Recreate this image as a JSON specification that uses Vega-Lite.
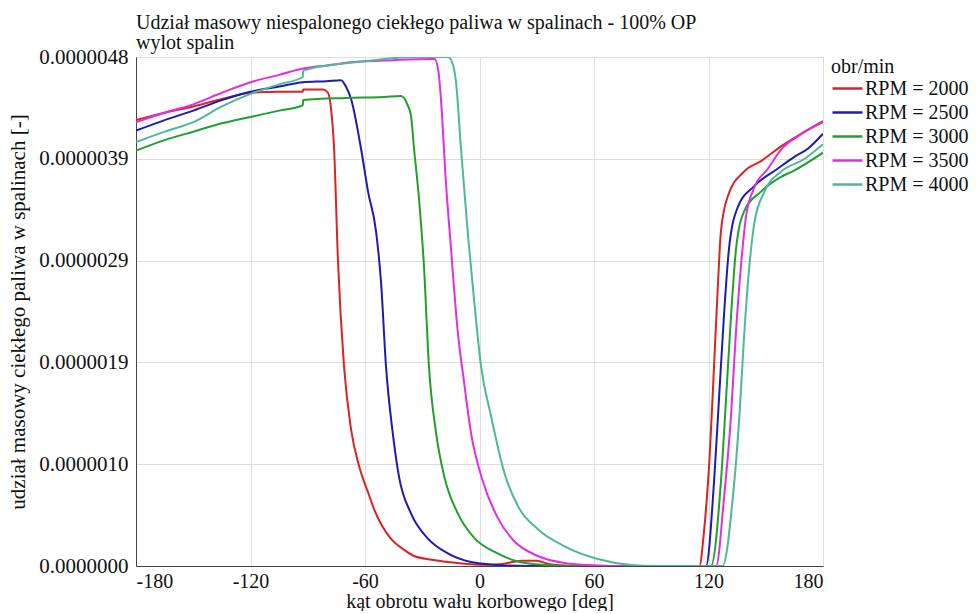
{
  "$schema": "https://vega.github.io/schema/vega-lite/v6.json",
  "width": 687,
  "height": 509,
  "padding": {"left": 7, "top": 13, "right": 0, "bottom": 0},
  "background": "white",
  "title": {
    "text": ["Udział masowy niespalonego ciekłego paliwa w spalinach - 100% OP", "wylot spalin"],
    "anchor": "start",
    "frame": "group",
    "font": "Liberation Serif",
    "fontSize": 20,
    "fontWeight": "normal",
    "color": "#111",
    "lineHeight": 20,
    "offset": -7
  },
  "datasets": {
    "curves": [
      {"rpm": "RPM = 2000", "kat": -180, "u": 4.24e-6},
      {"rpm": "RPM = 2000", "kat": -165, "u": 4.31e-6},
      {"rpm": "RPM = 2000", "kat": -150, "u": 4.37e-6},
      {"rpm": "RPM = 2000", "kat": -135, "u": 4.44e-6},
      {"rpm": "RPM = 2000", "kat": -120, "u": 4.50e-6},
      {"rpm": "RPM = 2000", "kat": -105, "u": 4.51e-6},
      {"rpm": "RPM = 2000", "kat": -92.6, "u": 4.51e-6},
      {"rpm": "RPM = 2000", "kat": -92.4, "u": 4.53e-6},
      {"rpm": "RPM = 2000", "kat": -82, "u": 4.53e-6},
      {"rpm": "RPM = 2000", "kat": -79.4, "u": 4.50e-6},
      {"rpm": "RPM = 2000", "kat": -77.8, "u": 4.35e-6},
      {"rpm": "RPM = 2000", "kat": -76.2, "u": 3.97e-6},
      {"rpm": "RPM = 2000", "kat": -74.2, "u": 2.92e-6},
      {"rpm": "RPM = 2000", "kat": -71.0, "u": 1.90e-6},
      {"rpm": "RPM = 2000", "kat": -67.3, "u": 1.30e-6},
      {"rpm": "RPM = 2000", "kat": -63.1, "u": 0.95e-6},
      {"rpm": "RPM = 2000", "kat": -58, "u": 0.68e-6},
      {"rpm": "RPM = 2000", "kat": -55, "u": 0.53e-6},
      {"rpm": "RPM = 2000", "kat": -51, "u": 0.38e-6},
      {"rpm": "RPM = 2000", "kat": -46, "u": 0.25e-6},
      {"rpm": "RPM = 2000", "kat": -40, "u": 0.16e-6},
      {"rpm": "RPM = 2000", "kat": -34.3, "u": 0.095e-6},
      {"rpm": "RPM = 2000", "kat": -25, "u": 0.06e-6},
      {"rpm": "RPM = 2000", "kat": -16.5, "u": 0.038e-6},
      {"rpm": "RPM = 2000", "kat": 0, "u": 0.012e-6},
      {"rpm": "RPM = 2000", "kat": 12, "u": 0.02e-6},
      {"rpm": "RPM = 2000", "kat": 18, "u": 0.04e-6},
      {"rpm": "RPM = 2000", "kat": 22, "u": 0.05e-6},
      {"rpm": "RPM = 2000", "kat": 30, "u": 0.05e-6},
      {"rpm": "RPM = 2000", "kat": 36, "u": 0.02e-6},
      {"rpm": "RPM = 2000", "kat": 45, "u": 0.005e-6},
      {"rpm": "RPM = 2000", "kat": 60, "u": 0},
      {"rpm": "RPM = 2000", "kat": 100, "u": 0},
      {"rpm": "RPM = 2000", "kat": 115.2, "u": 0},
      {"rpm": "RPM = 2000", "kat": 117.6, "u": 0.32e-6},
      {"rpm": "RPM = 2000", "kat": 120.8, "u": 1.11e-6},
      {"rpm": "RPM = 2000", "kat": 122.9, "u": 1.90e-6},
      {"rpm": "RPM = 2000", "kat": 125.0, "u": 2.70e-6},
      {"rpm": "RPM = 2000", "kat": 126.5, "u": 3.18e-6},
      {"rpm": "RPM = 2000", "kat": 130.2, "u": 3.52e-6},
      {"rpm": "RPM = 2000", "kat": 138.6, "u": 3.75e-6},
      {"rpm": "RPM = 2000", "kat": 147.5, "u": 3.85e-6},
      {"rpm": "RPM = 2000", "kat": 158, "u": 3.99e-6},
      {"rpm": "RPM = 2000", "kat": 168.5, "u": 4.11e-6},
      {"rpm": "RPM = 2000", "kat": 180, "u": 4.23e-6},

      {"rpm": "RPM = 2500", "kat": -180, "u": 4.14e-6},
      {"rpm": "RPM = 2500", "kat": -165, "u": 4.24e-6},
      {"rpm": "RPM = 2500", "kat": -150, "u": 4.33e-6},
      {"rpm": "RPM = 2500", "kat": -135, "u": 4.43e-6},
      {"rpm": "RPM = 2500", "kat": -120, "u": 4.51e-6},
      {"rpm": "RPM = 2500", "kat": -105, "u": 4.56e-6},
      {"rpm": "RPM = 2500", "kat": -92.5, "u": 4.60e-6},
      {"rpm": "RPM = 2500", "kat": -80, "u": 4.61e-6},
      {"rpm": "RPM = 2500", "kat": -72.6, "u": 4.62e-6},
      {"rpm": "RPM = 2500", "kat": -70, "u": 4.56e-6},
      {"rpm": "RPM = 2500", "kat": -67.3, "u": 4.44e-6},
      {"rpm": "RPM = 2500", "kat": -62.1, "u": 3.97e-6},
      {"rpm": "RPM = 2500", "kat": -58.4, "u": 3.56e-6},
      {"rpm": "RPM = 2500", "kat": -54.2, "u": 3.18e-6},
      {"rpm": "RPM = 2500", "kat": -51.6, "u": 2.70e-6},
      {"rpm": "RPM = 2500", "kat": -49.0, "u": 1.90e-6},
      {"rpm": "RPM = 2500", "kat": -45.5, "u": 1.27e-6},
      {"rpm": "RPM = 2500", "kat": -42.2, "u": 0.85e-6},
      {"rpm": "RPM = 2500", "kat": -35.9, "u": 0.50e-6},
      {"rpm": "RPM = 2500", "kat": -27.0, "u": 0.26e-6},
      {"rpm": "RPM = 2500", "kat": -16.6, "u": 0.12e-6},
      {"rpm": "RPM = 2500", "kat": -4.5, "u": 0.038e-6},
      {"rpm": "RPM = 2500", "kat": 9.5, "u": 0.01e-6},
      {"rpm": "RPM = 2500", "kat": 25, "u": 0},
      {"rpm": "RPM = 2500", "kat": 100, "u": 0},
      {"rpm": "RPM = 2500", "kat": 118.7, "u": 0},
      {"rpm": "RPM = 2500", "kat": 122.9, "u": 0.80e-6},
      {"rpm": "RPM = 2500", "kat": 125.5, "u": 1.59e-6},
      {"rpm": "RPM = 2500", "kat": 128.1, "u": 2.38e-6},
      {"rpm": "RPM = 2500", "kat": 130.7, "u": 3.01e-6},
      {"rpm": "RPM = 2500", "kat": 135.5, "u": 3.42e-6},
      {"rpm": "RPM = 2500", "kat": 143.8, "u": 3.61e-6},
      {"rpm": "RPM = 2500", "kat": 156.4, "u": 3.78e-6},
      {"rpm": "RPM = 2500", "kat": 165, "u": 3.89e-6},
      {"rpm": "RPM = 2500", "kat": 172.2, "u": 3.97e-6},
      {"rpm": "RPM = 2500", "kat": 180, "u": 4.11e-6},

      {"rpm": "RPM = 3000", "kat": -180, "u": 3.95e-6},
      {"rpm": "RPM = 3000", "kat": -165, "u": 4.05e-6},
      {"rpm": "RPM = 3000", "kat": -150, "u": 4.13e-6},
      {"rpm": "RPM = 3000", "kat": -135, "u": 4.21e-6},
      {"rpm": "RPM = 3000", "kat": -120, "u": 4.27e-6},
      {"rpm": "RPM = 3000", "kat": -105, "u": 4.33e-6},
      {"rpm": "RPM = 3000", "kat": -92.6, "u": 4.38e-6},
      {"rpm": "RPM = 3000", "kat": -92.4, "u": 4.43e-6},
      {"rpm": "RPM = 3000", "kat": -70, "u": 4.45e-6},
      {"rpm": "RPM = 3000", "kat": -50, "u": 4.46e-6},
      {"rpm": "RPM = 3000", "kat": -41.1, "u": 4.47e-6},
      {"rpm": "RPM = 3000", "kat": -37.6, "u": 4.38e-6},
      {"rpm": "RPM = 3000", "kat": -35.9, "u": 4.28e-6},
      {"rpm": "RPM = 3000", "kat": -34.3, "u": 3.97e-6},
      {"rpm": "RPM = 3000", "kat": -31.7, "u": 3.49e-6},
      {"rpm": "RPM = 3000", "kat": -29.1, "u": 2.85e-6},
      {"rpm": "RPM = 3000", "kat": -26.5, "u": 1.90e-6},
      {"rpm": "RPM = 3000", "kat": -22.8, "u": 1.27e-6},
      {"rpm": "RPM = 3000", "kat": -18.6, "u": 0.86e-6},
      {"rpm": "RPM = 3000", "kat": -11.4, "u": 0.50e-6},
      {"rpm": "RPM = 3000", "kat": -2.9, "u": 0.27e-6},
      {"rpm": "RPM = 3000", "kat": 9.5, "u": 0.12e-6},
      {"rpm": "RPM = 3000", "kat": 21, "u": 0.038e-6},
      {"rpm": "RPM = 3000", "kat": 34, "u": 0.01e-6},
      {"rpm": "RPM = 3000", "kat": 50, "u": 0},
      {"rpm": "RPM = 3000", "kat": 100, "u": 0},
      {"rpm": "RPM = 3000", "kat": 121.3, "u": 0},
      {"rpm": "RPM = 3000", "kat": 126.5, "u": 0.80e-6},
      {"rpm": "RPM = 3000", "kat": 129.2, "u": 1.59e-6},
      {"rpm": "RPM = 3000", "kat": 131.8, "u": 2.38e-6},
      {"rpm": "RPM = 3000", "kat": 134.4, "u": 3.01e-6},
      {"rpm": "RPM = 3000", "kat": 138.6, "u": 3.37e-6},
      {"rpm": "RPM = 3000", "kat": 147.5, "u": 3.56e-6},
      {"rpm": "RPM = 3000", "kat": 158, "u": 3.70e-6},
      {"rpm": "RPM = 3000", "kat": 164.8, "u": 3.76e-6},
      {"rpm": "RPM = 3000", "kat": 180, "u": 3.93e-6},

      {"rpm": "RPM = 3500", "kat": -180, "u": 4.22e-6},
      {"rpm": "RPM = 3500", "kat": -165, "u": 4.31e-6},
      {"rpm": "RPM = 3500", "kat": -150, "u": 4.39e-6},
      {"rpm": "RPM = 3500", "kat": -135, "u": 4.50e-6},
      {"rpm": "RPM = 3500", "kat": -120, "u": 4.60e-6},
      {"rpm": "RPM = 3500", "kat": -105, "u": 4.67e-6},
      {"rpm": "RPM = 3500", "kat": -92.5, "u": 4.73e-6},
      {"rpm": "RPM = 3500", "kat": -80, "u": 4.76e-6},
      {"rpm": "RPM = 3500", "kat": -67, "u": 4.79e-6},
      {"rpm": "RPM = 3500", "kat": -45, "u": 4.81e-6},
      {"rpm": "RPM = 3500", "kat": -23.5, "u": 4.82e-6},
      {"rpm": "RPM = 3500", "kat": -21.5, "u": 4.70e-6},
      {"rpm": "RPM = 3500", "kat": -20.2, "u": 4.44e-6},
      {"rpm": "RPM = 3500", "kat": -17.6, "u": 3.65e-6},
      {"rpm": "RPM = 3500", "kat": -14.9, "u": 3.01e-6},
      {"rpm": "RPM = 3500", "kat": -11.4, "u": 2.23e-6},
      {"rpm": "RPM = 3500", "kat": -8.1, "u": 1.75e-6},
      {"rpm": "RPM = 3500", "kat": -4.5, "u": 1.27e-6},
      {"rpm": "RPM = 3500", "kat": 1.5, "u": 0.82e-6},
      {"rpm": "RPM = 3500", "kat": 9.5, "u": 0.46e-6},
      {"rpm": "RPM = 3500", "kat": 18, "u": 0.24e-6},
      {"rpm": "RPM = 3500", "kat": 30.6, "u": 0.095e-6},
      {"rpm": "RPM = 3500", "kat": 46, "u": 0.025e-6},
      {"rpm": "RPM = 3500", "kat": 62, "u": 0.005e-6},
      {"rpm": "RPM = 3500", "kat": 75, "u": 0},
      {"rpm": "RPM = 3500", "kat": 110, "u": 0},
      {"rpm": "RPM = 3500", "kat": 124, "u": 0},
      {"rpm": "RPM = 3500", "kat": 128.1, "u": 0.64e-6},
      {"rpm": "RPM = 3500", "kat": 131.8, "u": 1.43e-6},
      {"rpm": "RPM = 3500", "kat": 134.4, "u": 2.23e-6},
      {"rpm": "RPM = 3500", "kat": 137.0, "u": 2.85e-6},
      {"rpm": "RPM = 3500", "kat": 139.7, "u": 3.33e-6},
      {"rpm": "RPM = 3500", "kat": 143.8, "u": 3.59e-6},
      {"rpm": "RPM = 3500", "kat": 151.2, "u": 3.78e-6},
      {"rpm": "RPM = 3500", "kat": 158, "u": 3.96e-6},
      {"rpm": "RPM = 3500", "kat": 168, "u": 4.10e-6},
      {"rpm": "RPM = 3500", "kat": 180, "u": 4.22e-6},

      {"rpm": "RPM = 4000", "kat": -180, "u": 4.03e-6},
      {"rpm": "RPM = 4000", "kat": -165, "u": 4.13e-6},
      {"rpm": "RPM = 4000", "kat": -150, "u": 4.22e-6},
      {"rpm": "RPM = 4000", "kat": -135, "u": 4.37e-6},
      {"rpm": "RPM = 4000", "kat": -120, "u": 4.49e-6},
      {"rpm": "RPM = 4000", "kat": -105, "u": 4.58e-6},
      {"rpm": "RPM = 4000", "kat": -92.6, "u": 4.65e-6},
      {"rpm": "RPM = 4000", "kat": -92.4, "u": 4.71e-6},
      {"rpm": "RPM = 4000", "kat": -75, "u": 4.77e-6},
      {"rpm": "RPM = 4000", "kat": -55, "u": 4.81e-6},
      {"rpm": "RPM = 4000", "kat": -36, "u": 4.84e-6},
      {"rpm": "RPM = 4000", "kat": -16.5, "u": 4.84e-6},
      {"rpm": "RPM = 4000", "kat": -14.3, "u": 4.79e-6},
      {"rpm": "RPM = 4000", "kat": -12.3, "u": 4.60e-6},
      {"rpm": "RPM = 4000", "kat": -9.7, "u": 3.97e-6},
      {"rpm": "RPM = 4000", "kat": -6.2, "u": 3.18e-6},
      {"rpm": "RPM = 4000", "kat": -2.9, "u": 2.54e-6},
      {"rpm": "RPM = 4000", "kat": 0.8, "u": 1.90e-6},
      {"rpm": "RPM = 4000", "kat": 6.0, "u": 1.43e-6},
      {"rpm": "RPM = 4000", "kat": 12.8, "u": 0.90e-6},
      {"rpm": "RPM = 4000", "kat": 20.1, "u": 0.57e-6},
      {"rpm": "RPM = 4000", "kat": 30.6, "u": 0.35e-6},
      {"rpm": "RPM = 4000", "kat": 44.3, "u": 0.19e-6},
      {"rpm": "RPM = 4000", "kat": 62, "u": 0.067e-6},
      {"rpm": "RPM = 4000", "kat": 79.4, "u": 0.01e-6},
      {"rpm": "RPM = 4000", "kat": 92, "u": 0},
      {"rpm": "RPM = 4000", "kat": 127.4, "u": 0},
      {"rpm": "RPM = 4000", "kat": 132.7, "u": 0.64e-6},
      {"rpm": "RPM = 4000", "kat": 136.2, "u": 1.43e-6},
      {"rpm": "RPM = 4000", "kat": 138.8, "u": 2.23e-6},
      {"rpm": "RPM = 4000", "kat": 141.4, "u": 2.85e-6},
      {"rpm": "RPM = 4000", "kat": 144.1, "u": 3.27e-6},
      {"rpm": "RPM = 4000", "kat": 149.3, "u": 3.56e-6},
      {"rpm": "RPM = 4000", "kat": 158, "u": 3.75e-6},
      {"rpm": "RPM = 4000", "kat": 170.2, "u": 3.87e-6},
      {"rpm": "RPM = 4000", "kat": 180, "u": 4.01e-6}
    ]
  },
  "data": {"name": "curves"},
  "mark": {"type": "line", "strokeWidth": 2, "interpolate": "monotone", "clip": true},
  "encoding": {
    "x": {
      "field": "kat",
      "type": "quantitative",
      "scale": {"domain": [-180, 180], "nice": false, "zero": false},
      "axis": {
        "values": [-180, -120, -60, 0, 60, 120, 180],
        "labelExpr": "'' + datum.value",
        "title": "kąt obrotu wału korbowego [deg]",
        "titlePadding": 0,
        "labelPadding": 5,
        "labelFontSize": 20,
        "titleFontSize": 20
      }
    },
    "y": {
      "field": "u",
      "type": "quantitative",
      "scale": {"domain": [0, 4.84e-6], "nice": false},
      "axis": {
        "values": [0, 9.68e-7, 1.936e-6, 2.904e-6, 3.872e-6, 4.84e-6],
        "format": ".7f",
        "title": "udział masowy ciekłego paliwa w spalinach [-]",
        "titlePadding": 10,
        "labelPadding": 8,
        "labelFontSize": 21,
        "titleFontSize": 21
      }
    },
    "color": {
      "field": "rpm",
      "type": "nominal",
      "scale": {
        "domain": ["RPM = 2000", "RPM = 2500", "RPM = 3000", "RPM = 3500", "RPM = 4000"],
        "range": ["#dd2222", "#1c1cb0", "#22a02c", "#e22ee2", "#4db89a"]
      },
      "legend": {"title": "obr/min"}
    }
  },
  "config": {
    "font": "Liberation Serif",
    "view": {"stroke": "#777", "strokeWidth": 1},
    "axis": {
      "labelFont": "Liberation Serif",
      "titleFont": "Liberation Serif",
      "titleFontWeight": "normal",
      "labelColor": "#111",
      "titleColor": "#111",
      "gridColor": "#dddddd",
      "gridWidth": 1,
      "ticks": false,
      "domainColor": "#444",
      "labelOverlap": false
    },
    "legend": {
      "orient": "right",
      "offset": 8,
      "titleFont": "Liberation Serif",
      "labelFont": "Liberation Serif",
      "titleFontSize": 20,
      "labelFontSize": 20,
      "titleFontWeight": "normal",
      "titleColor": "#111",
      "labelColor": "#111",
      "symbolType": "M-1,0H2",
      "symbolSize": 400,
      "symbolStrokeWidth": 2.5,
      "rowPadding": 2,
      "titlePadding": 0,
      "labelOffset": 11,
      "padding": 0
    }
  }
}
